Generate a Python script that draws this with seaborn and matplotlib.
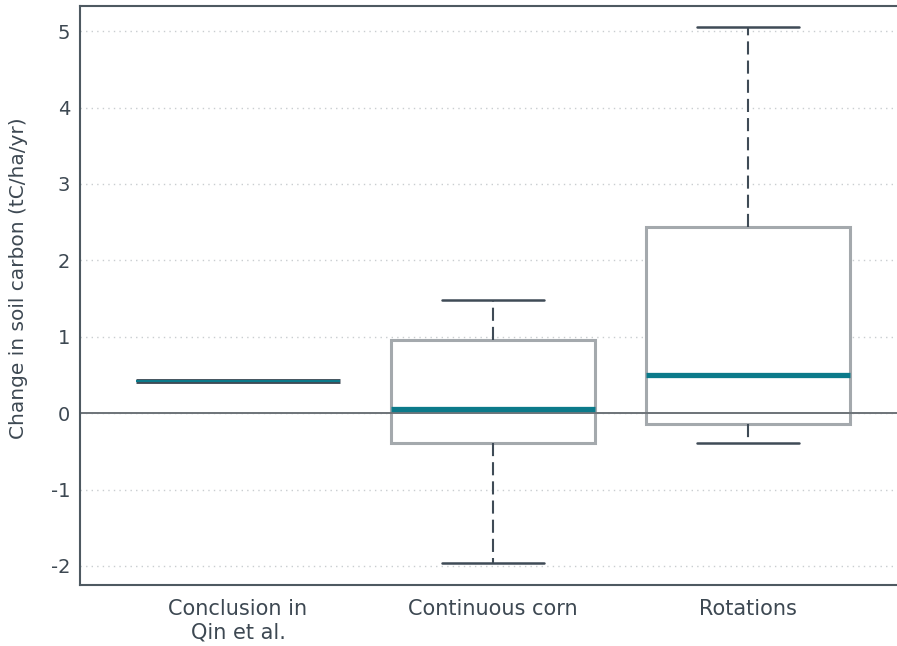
import matplotlib
matplotlib.use("Agg")
import matplotlib.pyplot as plt
import seaborn as sns
import pandas as pd

# box statistics (tC/ha/yr)
categories = ["Conclusion in\nQin et al.", "Continuous corn", "Rotations"]
whisker_low = [0.425, -1.96, -0.385]
q1 = [0.425, -0.39, -0.145]
median = [0.425, 0.055, 0.50]
q3 = [0.425, 0.957, 2.44]
whisker_high = [0.425, 1.48, 5.05]

# five values per group reproduce the quartiles exactly with whis=(0, 100)
rows = []
for i, cat in enumerate(categories):
    for v in (whisker_low[i], q1[i], median[i], q3[i], whisker_high[i]):
        rows.append({"group": cat, "value": v})
df = pd.DataFrame(rows)

sns.set_style("white")
plt.rcParams["font.family"] = ["DejaVu Sans"]
plt.rcParams["axes.unicode_minus"] = False

text_col = "#3d4852"
dark = "#3f4b56"
box_col = "#a4a9ad"
teal = "#0b7a8a"

fig = plt.figure(figsize=(8.97, 6.46), dpi=100)
ax = fig.add_axes([0.0892, 0.0944, 0.912, 0.8963])

ax.axhline(0, color="#6d7378", linewidth=1.4, zorder=1.5)

sns.boxplot(data=df, x="group", y="value", order=categories, whis=(0, 100),
            width=0.8, ax=ax,
            boxprops=dict(facecolor="white", edgecolor=box_col, linewidth=2.2, zorder=1),
            whiskerprops=dict(color=dark, linestyle=(0, (6.3, 2.9)), linewidth=1.5),
            capprops=dict(color=dark, linewidth=1.8),
            medianprops=dict(color=teal, linewidth=3.8),
            showfliers=False)

# the single-value group is drawn as a dark bar with a thin teal centre
cont = ax.containers[0]
cont.boxes[0].set_edgecolor(dark)
cont.boxes[0].set_linewidth(3.5)
cont.medians[0].set_linewidth(1.5)
for b in cont.boxes:
    b.set_zorder(1)

ax.set_ylim(-2.25, 5.33)
ax.set_xlim(-0.62, 2.59)
ax.set_yticks([-2, -1, 0, 1, 2, 3, 4, 5])
ax.yaxis.grid(True, linestyle=(0, (1, 3)), color="#c9cdd0", linewidth=1)
ax.set_axisbelow(True)

for side in ["left", "bottom", "top"]:
    ax.spines[side].set_color("#4e5961")
    ax.spines[side].set_linewidth(1.5)
ax.spines["right"].set_visible(False)

ax.tick_params(axis="both", length=0, colors=text_col)
ax.tick_params(axis="y", pad=7, labelsize=14)
ax.tick_params(axis="x", pad=10, labelsize=15)
ax.set_xlabel("")
ax.set_ylabel("Change in soil carbon (tC/ha/yr)", fontsize=14.5, color=text_col)
ax.yaxis.set_label_coords(-0.064, 0.53)

fig.savefig("out.png", dpi=100)
